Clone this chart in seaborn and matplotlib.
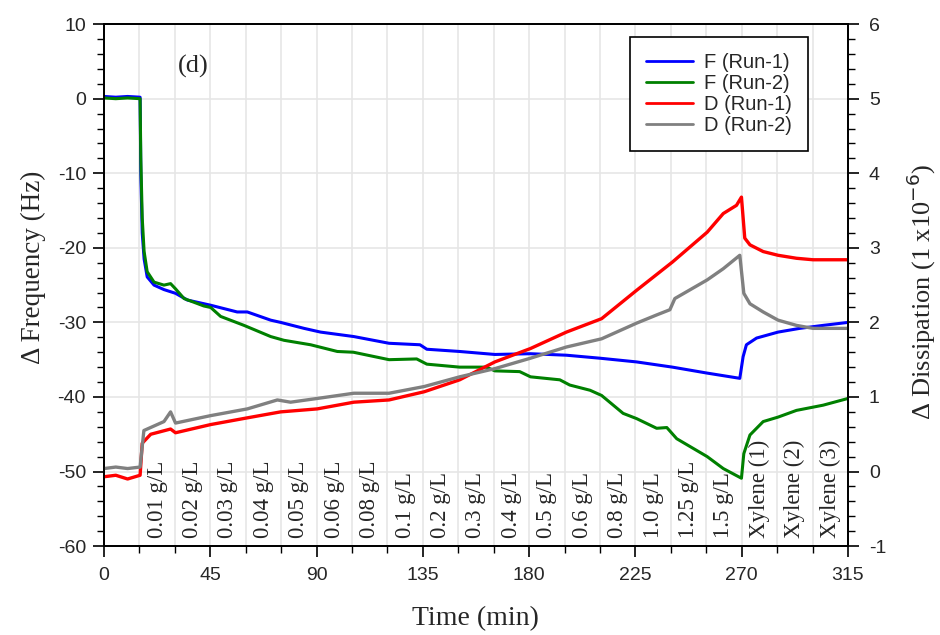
import matplotlib
matplotlib.use('Agg')
import matplotlib.pyplot as plt
import matplotlib.transforms as mtransforms
from matplotlib.ticker import MultipleLocator
import seaborn as sns

# ---- data ----
# F (Run-1), blue, left axis (Hz)
t_f1 = [0, 5, 10, 15.3, 15.6, 16.2, 17, 18.3, 21.2, 25.4, 30.3, 35.3, 45.2, 56.4, 60.7,
        70.6, 74.8, 84.7, 91.7, 105.8, 120.7, 133.8, 136.7, 150.6, 165.5, 180.6, 195.8,
        209.9, 225.5, 240.7, 255.4, 269.2, 270.6, 272, 276.3, 285.4, 294.6, 304.5, 315]
f_run1 = [0.3, 0.2, 0.3, 0.2, -10, -18, -21.5, -23.9, -25, -25.6, -26.1, -27, -27.7, -28.6, -28.6,
          -29.7, -30, -30.8, -31.3, -31.9, -32.8, -33, -33.6, -33.9, -34.3, -34.2, -34.4,
          -34.8, -35.3, -36, -36.8, -37.5, -34.6, -33, -32.1, -31.3, -30.8, -30.4, -30]

# F (Run-2), green, left axis (Hz)
t_f2 = [0, 5, 10, 15.3, 15.6, 16.2, 17, 18.3, 21.2, 25.4, 28.2, 30.3, 33.9, 42.3, 45.2, 49.4,
        59.3, 70.6, 76.2, 87.5, 98.8, 105.6, 120.7, 132.4, 136.7, 150.6, 161.9, 165.5, 176,
        180.6, 193, 197.2, 205.8, 210.7, 219.8, 225.5, 234, 238.3, 242.5, 255.4, 262.2,
        269.9, 270.9, 273.5, 279.1, 285.4, 293.2, 304.5, 315]
f_run2 = [0.1, 0, 0.1, 0, -8, -16, -20.5, -23.2, -24.6, -25, -24.8, -25.5, -26.8, -27.8, -28, -29.2,
          -30.4, -31.9, -32.4, -33, -33.9, -34, -35, -34.9, -35.6, -36, -36, -36.5, -36.6,
          -37.3, -37.7, -38.4, -39.1, -39.8, -42.2, -42.9, -44.2, -44.1, -45.6, -48, -49.6,
          -50.9, -47.6, -45.1, -43.3, -42.7, -41.8, -41.1, -40.2]

# D (Run-1), red, right axis (1e-6)
t_d1 = [0, 5, 10, 15.3, 16.2, 19.8, 28.2, 30.3, 45.2, 60.7, 74.8, 90.3, 105.8, 120.7, 135.6,
        150.6, 165.5, 180.6, 195.8, 210.7, 225.5, 240.7, 255.4, 262.2, 267.8, 269.9, 271.3,
        273.5, 279.1, 285.4, 293.2, 300.2, 307.3, 315]
d_run1 = [-0.07, -0.05, -0.1, -0.05, 0.38, 0.5, 0.57, 0.52, 0.63, 0.72, 0.8, 0.84, 0.93, 0.96, 1.07,
          1.23, 1.47, 1.65, 1.87, 2.05, 2.43, 2.81, 3.21, 3.46, 3.57, 3.68, 3.13,
          3.04, 2.95, 2.9, 2.86, 2.84, 2.84, 2.84]

# D (Run-2), gray, right axis (1e-6)
t_d2 = [0, 5, 10, 15.3, 16.9, 25.4, 28.2, 30.3, 45.2, 60.7, 73.4, 79, 90.3, 105.8, 120.7, 135.6,
        150.6, 165.5, 180.6, 195.8, 210.7, 225.5, 234, 239.6, 241.7, 255.4, 262.2, 269.2,
        270.9, 273.5, 279.1, 285.4, 293.2, 300.2, 315]
d_run2 = [0.04, 0.06, 0.04, 0.06, 0.55, 0.67, 0.8, 0.65, 0.75, 0.84, 0.96, 0.93, 0.98, 1.05, 1.05, 1.14,
          1.27, 1.38, 1.52, 1.67, 1.78, 1.99, 2.1, 2.17, 2.32, 2.57, 2.72, 2.9,
          2.39, 2.25, 2.14, 2.03, 1.96, 1.92, 1.92]

# injection steps (start time of each 15 min stage) and their labels
step_start = [15, 30, 45, 60, 75, 90, 105, 120, 135, 150, 165, 180, 195, 210, 225, 240, 255,
              270, 285, 300]
step_labels = ['0.01 g/L', '0.02 g/L', '0.03 g/L', '0.04 g/L', '0.05 g/L', '0.06 g/L',
               '0.08 g/L', '0.1 g/L', '0.2 g/L', '0.3 g/L', '0.4 g/L', '0.5 g/L', '0.6 g/L',
               '0.8 g/L', '1.0 g/L', '1.25 g/L', '1.5 g/L',
               'Xylene (1)', 'Xylene (2)', 'Xylene (3)']

# ---- style ----
sns.set_theme(style='white')
plt.rcParams['font.family'] = ['Liberation Sans', 'DejaVu Sans']
plt.rcParams['axes.unicode_minus'] = False
serif = ['Liberation Serif', 'DejaVu Serif']

fig = plt.figure(figsize=(9.4, 6.35), dpi=100)
ax = fig.add_axes([0.1106, 0.140, 0.7915, 0.822])
ax2 = ax.twinx()

sns.lineplot(x=t_f1, y=f_run1, ax=ax, color='#0000ff', lw=2.2, label='F (Run-1)', legend=False)
sns.lineplot(x=t_f2, y=f_run2, ax=ax, color='#008000', lw=2.2, label='F (Run-2)', legend=False)
sns.lineplot(x=t_d1, y=d_run1, ax=ax2, color='#ff0000', lw=2.4, label='D (Run-1)', legend=False)
sns.lineplot(x=t_d2, y=d_run2, ax=ax2, color='#808080', lw=2.4, label='D (Run-2)', legend=False)

ax.set_xlim(0, 315)
ax.set_ylim(-60, 10)
ax2.set_ylim(-1, 6)

ax.xaxis.set_major_locator(MultipleLocator(45))
ax.xaxis.set_minor_locator(MultipleLocator(15))
ax.yaxis.set_major_locator(MultipleLocator(10))
ax.yaxis.set_minor_locator(MultipleLocator(2))
ax2.yaxis.set_major_locator(MultipleLocator(1))
ax2.yaxis.set_minor_locator(MultipleLocator(0.2))

ax.grid(True, which='both', axis='x', color='#e6e6e6', lw=1.2)
ax.grid(True, which='major', axis='y', color='#e6e6e6', lw=1.2)
ax.set_axisbelow(True)

for a in (ax, ax2):
    for s in a.spines.values():
        s.set_color('black')
        s.set_linewidth(1.3)

ax.tick_params(axis='both', which='major', direction='out', length=8, width=1.2,
               color='black', labelsize=14, bottom=True, left=True, top=False, right=False)
ax.tick_params(axis='both', which='minor', direction='out', length=5, width=1.0,
               color='black', bottom=True, left=True, top=False, right=False)
ax.tick_params(axis='x', which='major', pad=7)
ax.tick_params(axis='y', which='major', pad=5)
ax2.tick_params(axis='y', which='major', direction='out', length=8, width=1.2,
                color='black', labelsize=14, right=True, left=False, pad=7)
ax2.tick_params(axis='y', which='minor', direction='out', length=5, width=1.0,
                color='black', right=True, left=False)
ax2.grid(False)

ax.set_xlabel('Time (min)', fontsize=20, family=serif)
ax.set_ylabel('Δ Frequency (Hz)', fontsize=19.5, family=serif)
ax2.set_ylabel('Δ Dissipation (1 x10$^{-6}$)', fontsize=19, family=serif, rotation=90)
for lab in (ax.xaxis.label, ax.yaxis.label, ax2.yaxis.label):
    lab.set_ha('center')
    lab.set_va('center')
ax.xaxis.set_label_coords(0.499, -0.138)
ax.yaxis.set_label_coords(-0.095, 0.534)
ax2.yaxis.set_label_coords(1.0985, 0.487)

# stage labels
trans = mtransforms.blended_transform_factory(ax.transData, ax.transAxes)
for start, lab in zip(step_start, step_labels):
    ax.text(start + 7.5, 0.015, lab, rotation=90, ha='center', va='bottom',
            fontsize=16.5, family=serif, transform=trans)

ax.text(0.12, 0.918, '(d)', transform=ax.transAxes, fontsize=19, family=serif,
        ha='center', va='center')

h1, l1 = ax.get_legend_handles_labels()
h2, l2 = ax2.get_legend_handles_labels()
leg = ax2.legend(h1 + h2, l1 + l2, loc='upper right', bbox_to_anchor=(0.946, 0.975),
                 borderaxespad=0, fontsize=14.5, frameon=True, fancybox=False,
                 edgecolor='black', framealpha=1, handlelength=2.3, handletextpad=0.55,
                 labelspacing=0.1, borderpad=0.8)
leg.get_frame().set_linewidth(1.2)
for h in leg.get_lines():
    h.set_linewidth(2.0)

fig.savefig('out.png', dpi=100)
